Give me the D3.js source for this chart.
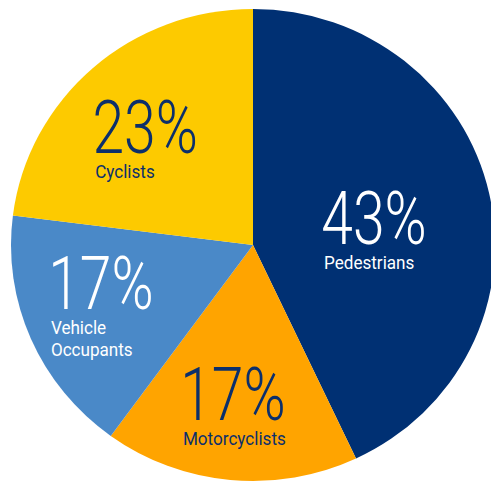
<!DOCTYPE html>
<html>
<head>
<meta charset="utf-8">
<script src="https://cdn.jsdelivr.net/npm/d3@7"></script>
<style>
  html, body { margin: 0; padding: 0; background: #fff; }
  svg { display: block; }
  text { font-family: Roboto, "DejaVu Sans", sans-serif; }
</style>
</head>
<body>
<div id="chart"></div>
<script>
// share of road deaths by user type, clockwise from 12 o'clock
const categories = ["Pedestrians", "Motorcyclists", "Vehicle\nOccupants", "Cyclists"];
const values = [43, 17, 17, 23];
const colors = ["#003073", "#ffa400", "#4a89c8", "#fdca00"];
const textColors = ["#ffffff", "#0c2f6b", "#ffffff", "#0c2f6b"];
// where each label block sits: fraction of radius and a small turn off the mid-angle (deg)
const labelRadius = [0.503, 0.696, 0.683, 0.627];
const labelTurn = [6.3, 1.4, 0.4, -3.9];

const W = 491, H = 482;
// the source pie is a touch wider than tall
const cx = 253, cy = 245, R = 242, SY = 236 / 242;
const BIG = 74, SMALL = 19, GAP1 = 25, LINE = 22;

const svg = d3.select("#chart").append("svg").attr("width", W).attr("height", H);
const g = svg.append("g").attr("transform", `translate(${cx},${cy})`);
const pieG = g.append("g").attr("transform", `scale(1,${SY})`);

const data = categories.map((c, i) => ({ name: c, value: values[i], i }));
const pie = d3.pie().sort(null).value(d => d.value);
const arc = d3.arc().innerRadius(0).outerRadius(R);
const arcs = pie(data);

pieG.selectAll("path.slice").data(arcs).join("path")
  .attr("class", "slice")
  .attr("d", arc)
  .attr("fill", d => colors[d.data.i]);

const labels = g.selectAll("g.label").data(arcs).join("g").attr("class", "label");

labels.each(function(d) {
  const el = d3.select(this);
  const col = textColors[d.data.i];
  el.append("g").attr("transform", "scale(0.77,1)")
    .append("text")
    .attr("x", 0).attr("y", 0)
    .attr("font-size", BIG).attr("font-weight", 300)
    .attr("fill", col)
    .text(d.data.value + "%");
  const lines = d.data.name.split("\n");
  const sub = el.append("g").attr("transform", "scale(0.9,1)");
  lines.forEach((line, k) => {
    sub.append("text")
      .attr("x", 3).attr("y", GAP1 + k * LINE)
      .attr("font-size", SMALL).attr("font-weight", 400)
      .attr("fill", col)
      .text(line);
  });
  // centre the glyph block on a point near the slice's mid-angle
  const bb = this.getBBox();
  const a = (d.startAngle + d.endAngle) / 2 + labelTurn[d.data.i] * Math.PI / 180;
  const r = R * labelRadius[d.data.i];
  const px = Math.sin(a) * r, py = -Math.cos(a) * r * SY;
  const top = -0.711 * BIG, bottom = GAP1 + LINE * (lines.length - 1) + 4;
  el.attr("transform", `translate(${px - bb.x - bb.width / 2},${py - (top + bottom) / 2})`);
});
</script>
</body>
</html>
